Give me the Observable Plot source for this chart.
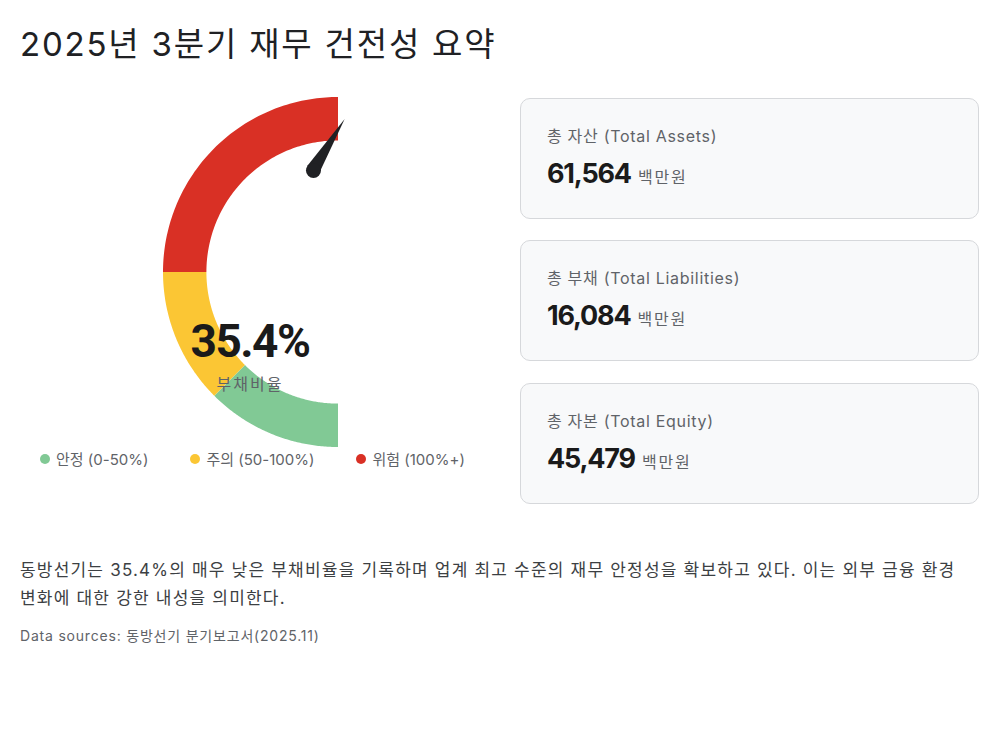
<!DOCTYPE html>
<html>
<head>
<meta charset="utf-8">
<script src="https://cdn.jsdelivr.net/npm/d3@7"></script>
<script src="https://cdn.jsdelivr.net/npm/@observablehq/plot@0.6"></script>
<style>
  html, body { margin: 0; padding: 0; background: #ffffff; }
  body { width: 1000px; height: 750px; position: relative; overflow: hidden;
         font-family: "Inter", "Noto Sans CJK KR", "Noto Sans", sans-serif; color: #202124; }
  .abs { position: absolute; }
  #title { left: 20px; top: 18px; font-size: 33px; font-weight: 400; letter-spacing: 1.8px; white-space: nowrap; }
  #gauge { left: 20px; top: 88px; }
  #center-value { left: 150px; width: 200px; text-align: center; top: 314px; font-family: "Roboto", "Inter", sans-serif;
                  font-size: 46px; font-weight: 700; letter-spacing: -1.5px; color: #1a1a1a; }
  #center-label { left: 150px; width: 200px; text-align: center; top: 371px; font-size: 16px; letter-spacing: 2px; color: #5f6368; }
  #legend { left: 40px; top: 448px; display: flex; gap: 42px; font-size: 15px; color: #5f6368; }
  #legend .item { display: flex; align-items: center; gap: 6px; white-space: nowrap; }
  #legend .dot { width: 10px; height: 10px; border-radius: 50%; display: inline-block; }
  .card { position: absolute; left: 520px; width: 459px; height: 121px; box-sizing: border-box;
          border: 1.5px solid #d6d8db; border-radius: 10px; background: #f8f9fa; }
  .card .label { position: absolute; left: 26px; top: 24px; font-size: 16px; letter-spacing: 0.7px; color: #5f6368; white-space: nowrap; }
  .card .value { position: absolute; left: 26px; top: 58px; white-space: nowrap; }
  .card .num { font-size: 27px; font-weight: 700; color: #1a1a1a; letter-spacing: -1.2px; }
  .card .unit { font-size: 16px; color: #5f6368; margin-left: 7px; letter-spacing: 1.8px; }
  #desc { left: 20px; top: 556px; width: 950px; font-size: 17px; line-height: 28px; letter-spacing: 1.2px;
          word-break: keep-all; color: #3c4043; }
  #source { left: 20px; top: 625px; font-size: 14px; letter-spacing: 0.8px; color: #5f6368; white-space: nowrap; }
</style>
</head>
<body>
<div id="title" class="abs"></div>
<div id="gauge" class="abs"></div>
<div id="center-value" class="abs"></div>
<div id="center-label" class="abs"></div>
<div id="legend" class="abs"></div>
<div id="cards"></div>
<div id="desc" class="abs"></div>
<div id="source" class="abs"></div>

<script>
// ---------- DATA ----------
const titleText = "2025년 3분기 재무 건전성 요약";
const debtRatio = 35.4;               // 부채비율 (%)
const debtRatioLabel = "부채비율";
const gaugeMax = 200;

const bandNames  = ["안정", "주의", "위험"];
const bandLabels = ["안정 (0-50%)", "주의 (50-100%)", "위험 (100%+)"];
const bandFrom   = [0, 50, 100];
const bandTo     = [50, 100, 200];
const bandColors = ["#81c995", "#fbc634", "#d93025"];

const cardLabels = ["총 자산 (Total Assets)", "총 부채 (Total Liabilities)", "총 자본 (Total Equity)"];
const cardValues = [61564, 16084, 45479];
const cardUnit   = "백만원";

const description = "동방선기는 35.4%의 매우 낮은 부채비율을 기록하며 업계 최고 수준의 재무 안정성을 확보하고 있다. 이는 외부 금융 환경 변화에 대한 강한 내성을 의미한다.";
const sourceText = "Data sources: 동방선기 분기보고서(2025.11)";

// ---------- LAYOUT ----------
const W = 460, H = 362;          // gauge svg size
const cx = 318, cy = 184;        // gauge centre in svg pixels
const pxPerUnit = 175;           // outer radius in pixels
const innerR = 0.752;            // inner radius (outer = 1)
const needlePivot = [-0.143, 0.583];
const needleLen = 0.343, needleHalfW = 0.04, needleHubR = 7.5;

// value -> unit-circle point (0 at bottom, sweeping through left to top)
const ang = v => (v / gaugeMax) * Math.PI;
const pt = (v, r) => [-Math.sin(ang(v)) * r, -Math.cos(ang(v)) * r];

const arcRows = [];
bandNames.forEach((name, i) => {
  const steps = 90;
  for (let k = 0; k <= steps; k++) {
    const v = bandFrom[i] + (bandTo[i] - bandFrom[i]) * k / steps;
    const [xi, yi] = pt(v, innerR);
    const [xo, yo] = pt(v, 1);
    arcRows.push({band: name, x1: xi, y1: yi, x2: xo, y2: yo});
  }
});

// needle: rotated clockwise from vertical by the value angle
const th = ang(debtRatio);
const dir = [Math.sin(th), Math.cos(th)];
const perp = [Math.cos(th), -Math.sin(th)];
const tip = [needlePivot[0] + dir[0] * needleLen, needlePivot[1] + dir[1] * needleLen];
const needleRows = [
  {x1: needlePivot[0] - perp[0] * needleHalfW, y1: needlePivot[1] - perp[1] * needleHalfW,
   x2: needlePivot[0] + perp[0] * needleHalfW, y2: needlePivot[1] + perp[1] * needleHalfW},
  {x1: tip[0], y1: tip[1], x2: tip[0], y2: tip[1]}
];

const plot = Plot.plot({
  width: W, height: H,
  margin: 0,
  x: {domain: [-cx / pxPerUnit, (W - cx) / pxPerUnit], axis: null},
  y: {domain: [-(H - cy) / pxPerUnit, cy / pxPerUnit], axis: null},
  color: {domain: bandNames, range: bandColors},
  style: {background: "transparent"},
  marks: [
    Plot.area(arcRows, {x1: "x1", y1: "y1", x2: "x2", y2: "y2", z: "band", fill: "band"}),
    Plot.area(needleRows, {x1: "x1", y1: "y1", x2: "x2", y2: "y2", fill: "#202124"}),
    Plot.dot([{x: needlePivot[0], y: needlePivot[1]}], {x: "x", y: "y", r: needleHubR, fill: "#202124"})
  ]
});
document.getElementById("gauge").appendChild(plot);

// ---------- TEXT ----------
document.getElementById("title").textContent = titleText;
document.getElementById("center-value").textContent = debtRatio.toFixed(1) + "%";
document.getElementById("center-label").textContent = debtRatioLabel;

const legend = document.getElementById("legend");
bandLabels.forEach((lab, i) => {
  const it = document.createElement("div");
  it.className = "item";
  const d = document.createElement("span");
  d.className = "dot"; d.style.background = bandColors[i];
  const t = document.createElement("span"); t.textContent = lab;
  it.appendChild(d); it.appendChild(t);
  legend.appendChild(it);
});

const cardTops = [98, 240, 383];
const cards = document.getElementById("cards");
cardLabels.forEach((lab, i) => {
  const c = document.createElement("div");
  c.className = "card"; c.style.top = cardTops[i] + "px";
  c.innerHTML = `<div class="label"></div><div class="value"><span class="num"></span><span class="unit"></span></div>`;
  c.querySelector(".label").textContent = lab;
  c.querySelector(".num").textContent = d3.format(",")(cardValues[i]);
  c.querySelector(".unit").textContent = cardUnit;
  cards.appendChild(c);
});

document.getElementById("desc").textContent = description;
document.getElementById("source").textContent = sourceText;
</script>
</body>
</html>
